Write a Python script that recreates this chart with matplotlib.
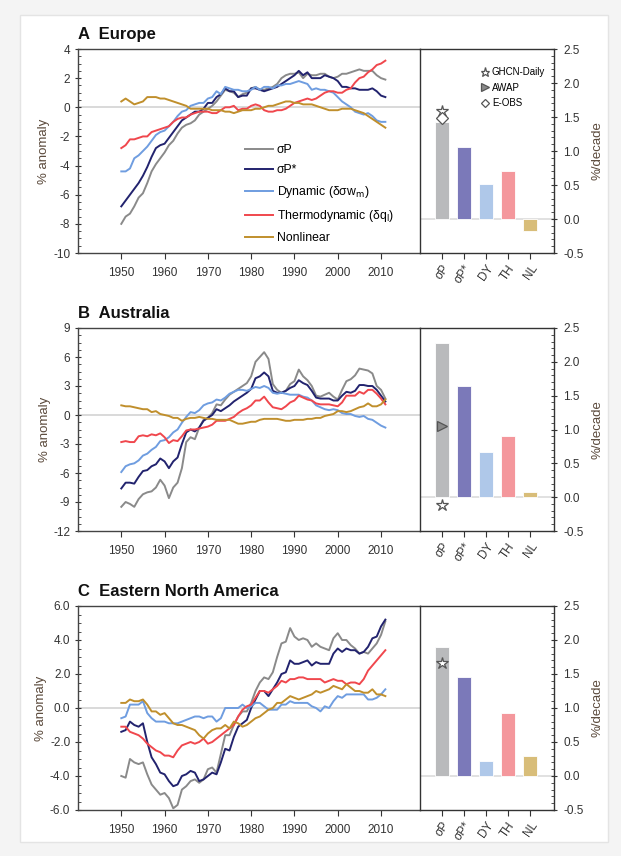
import matplotlib
matplotlib.use("Agg")
import matplotlib.pyplot as plt
from matplotlib.lines import Line2D
from matplotlib.patches import Rectangle
from matplotlib.ticker import MultipleLocator

plt.rcParams['font.family'] = ['Liberation Sans', 'DejaVu Sans']
plt.rcParams['mathtext.fontset'] = 'dejavusans'

years = list(range(1950, 2012))

# ---------------- Europe ----------------
eu_sigP = [-8.0, -7.5, -7.3, -6.8, -6.2, -5.9, -5.2, -4.4, -3.9, -3.5, -3.1, -2.6, -2.3, -1.8, -1.4, -1.2,
           -1.1, -0.9, -0.5, -0.3, -0.1, 0.1, 0.4, 0.8, 1.2, 1.1, 1.0, 0.7, 0.9, 1.0, 1.3, 1.4,
           1.2, 1.2, 1.3, 1.4, 1.6, 2.0, 2.2, 2.3, 2.3, 2.4, 2.0, 2.3, 2.2, 2.2, 2.3, 2.3,
           2.1, 2.0, 2.1, 2.3, 2.3, 2.4, 2.5, 2.6, 2.5, 2.5, 2.5, 2.2, 2.0, 1.9]
eu_sigPs = [-6.8, -6.4, -6.0, -5.6, -5.2, -4.7, -4.1, -3.4, -2.8, -2.6, -2.5, -2.1, -1.7, -1.3, -0.9, -0.7,
            -0.5, -0.3, -0.3, -0.1, 0.3, 0.3, 0.7, 0.9, 1.3, 1.1, 1.1, 0.7, 0.8, 0.8, 1.3, 1.3,
            1.2, 1.1, 1.2, 1.3, 1.4, 1.6, 1.8, 2.0, 2.2, 2.5, 2.2, 2.4, 2.0, 2.0, 2.0, 2.2,
            2.1, 2.0, 1.8, 1.4, 1.4, 1.3, 1.3, 1.2, 1.2, 1.2, 1.3, 1.1, 0.8, 0.7]
eu_dyn = [-4.4, -4.4, -4.2, -3.5, -3.3, -3.0, -2.7, -2.3, -1.9, -1.7, -1.6, -1.3, -1.0, -0.6, -0.3, -0.2,
          0.1, 0.2, 0.3, 0.3, 0.6, 0.7, 1.1, 0.9, 1.4, 1.3, 1.2, 1.2, 1.1, 1.1, 1.2, 1.4,
          1.2, 1.4, 1.4, 1.3, 1.5, 1.5, 1.6, 1.6, 1.7, 1.8, 1.7, 1.6, 1.2, 1.3, 1.2, 1.2,
          1.1, 1.0, 0.7, 0.4, 0.2, 0.0, -0.3, -0.4, -0.5, -0.4, -0.6, -0.9, -1.0, -1.0]
eu_thermo = [-2.8, -2.6, -2.2, -2.2, -2.1, -2.0, -2.0, -1.7, -1.6, -1.5, -1.4, -1.3, -1.0, -0.8, -0.7, -0.7,
             -0.5, -0.4, -0.3, -0.3, -0.3, -0.4, -0.4, -0.2, 0.0, 0.0, 0.1, -0.2, -0.1, -0.1, 0.1, 0.2,
             0.1, -0.2, -0.3, -0.3, -0.2, -0.2, -0.1, 0.1, 0.3, 0.4, 0.5, 0.6, 0.5, 0.6, 0.8, 1.0,
             1.1, 1.1, 1.0, 1.0, 1.2, 1.3, 1.7, 2.0, 2.1, 2.4, 2.6, 2.9, 3.0, 3.2]
eu_nonlin = [0.4, 0.6, 0.4, 0.2, 0.3, 0.4, 0.7, 0.7, 0.7, 0.6, 0.6, 0.5, 0.4, 0.3, 0.2, 0.1,
             -0.1, -0.1, -0.1, -0.1, -0.1, -0.2, -0.2, -0.2, -0.3, -0.3, -0.4, -0.3, -0.2, -0.2, -0.2, -0.1,
             -0.1, 0.0, 0.1, 0.1, 0.2, 0.3, 0.4, 0.4, 0.3, 0.3, 0.2, 0.2, 0.2, 0.1, 0.0, -0.1,
             -0.2, -0.2, -0.2, -0.1, -0.1, -0.1, -0.2, -0.3, -0.4, -0.6, -0.8, -1.0, -1.2, -1.4]

# ---------------- Australia ----------------
au_sigP = [-9.5, -9.0, -9.2, -9.5, -8.7, -8.2, -8.0, -7.9, -7.5, -6.7, -7.3, -8.6, -7.5, -7.0, -5.5, -2.8,
           -2.3, -2.5, -1.3, -0.5, -0.3, 0.2, 1.1, 1.0, 1.6, 2.1, 2.4, 2.7, 3.0, 3.3, 4.0, 5.5,
           6.0, 6.5, 5.8, 3.2, 2.6, 2.3, 2.5, 3.2, 3.5, 4.7, 4.0, 3.6, 3.0, 2.0, 1.9, 2.1,
           2.3, 1.9, 1.6, 2.6, 3.5, 3.7, 4.1, 4.8, 4.7, 4.6, 4.3, 3.0, 2.6, 1.7]
au_sigPs = [-7.6, -7.0, -7.0, -7.1, -6.4, -5.8, -5.7, -5.3, -5.1, -4.5, -4.8, -5.5, -4.8, -4.4, -3.0, -1.8,
            -1.5, -1.7, -1.3, -0.6, -0.3, 0.0, 0.6, 0.4, 0.7, 1.0, 1.4, 1.7, 2.0, 2.3, 2.7, 3.8,
            4.0, 4.4, 4.0, 2.5, 2.3, 2.3, 2.5, 2.8, 3.0, 3.6, 3.3, 3.1, 2.5, 1.8, 1.7, 1.7,
            1.7, 1.5, 1.5, 2.0, 2.4, 2.3, 2.5, 3.1, 3.1, 3.0, 3.0, 2.6, 2.0, 1.4]
au_dyn = [-5.9, -5.3, -5.1, -5.0, -4.7, -4.2, -4.0, -3.6, -3.3, -2.7, -2.6, -2.3, -1.8, -1.5, -0.8, -0.2,
          0.3, 0.2, 0.5, 1.0, 1.2, 1.3, 1.6, 1.5, 1.8, 2.2, 2.4, 2.6, 2.6, 2.5, 2.7, 2.9,
          2.8, 3.0, 2.8, 2.3, 2.2, 2.3, 2.2, 2.1, 2.1, 2.1, 1.9, 1.8, 1.5, 1.0, 0.8, 0.6,
          0.5, 0.6, 0.5, 0.2, 0.1, 0.1, -0.1, -0.2, -0.1, -0.4, -0.5, -0.8, -1.1, -1.3]
au_thermo = [-2.8, -2.7, -2.8, -2.8, -2.2, -2.1, -2.2, -2.0, -2.1, -1.9, -2.3, -2.9, -2.6, -2.7, -2.2, -1.6,
             -1.5, -1.5, -1.4, -1.3, -1.2, -1.0, -0.6, -0.6, -0.6, -0.4, -0.2, 0.2, 0.5, 0.7, 1.0, 1.5,
             1.5, 1.9, 1.3, 0.8, 0.7, 0.6, 0.9, 1.3, 1.5, 2.0, 1.8, 1.6, 1.5, 1.2, 1.1, 1.1,
             1.1, 1.0, 0.9, 1.3, 2.0, 2.0, 2.0, 2.4, 2.2, 2.6, 2.6, 2.2, 1.7, 1.1]
au_nonlin = [1.0, 0.9, 0.9, 0.8, 0.7, 0.6, 0.6, 0.3, 0.4, 0.1, 0.0, -0.1, -0.3, -0.3, -0.6, -0.4,
             -0.3, -0.3, -0.2, -0.3, -0.4, -0.4, -0.5, -0.5, -0.5, -0.5, -0.7, -0.9, -0.9, -0.8, -0.7, -0.7,
             -0.5, -0.4, -0.4, -0.4, -0.4, -0.5, -0.6, -0.6, -0.5, -0.5, -0.5, -0.4, -0.4, -0.3, -0.3, -0.1,
             0.0, 0.1, 0.4, 0.4, 0.3, 0.4, 0.6, 0.8, 0.9, 1.2, 0.9, 0.9, 1.1, 1.6]

# ---------------- Eastern North America ----------------
na_sigP = [-4.0, -4.1, -3.0, -3.2, -3.3, -3.2, -3.9, -4.5, -4.8, -5.1, -5.0, -5.3, -5.9, -5.7, -4.8, -4.6,
           -4.3, -4.2, -4.4, -4.2, -3.6, -3.5, -3.8, -2.7, -1.6, -1.6, -1.0, -0.5, -0.2, -0.2, 0.3, 1.0,
           1.5, 1.8, 1.7, 2.1, 3.0, 3.8, 3.9, 4.7, 4.2, 4.0, 4.1, 4.0, 3.6, 3.8, 3.6, 3.5,
           3.4, 4.1, 4.4, 4.0, 4.0, 3.7, 3.5, 3.2, 3.3, 3.2, 3.5, 3.8, 4.3, 5.1]
na_sigPs = [-1.4, -1.3, -0.8, -1.0, -1.1, -0.9, -2.0, -2.9, -3.3, -3.8, -3.9, -4.3, -4.6, -4.5, -4.0, -3.9,
            -3.7, -3.8, -4.3, -4.2, -4.0, -3.8, -3.9, -3.2, -2.4, -2.5, -1.7, -1.1, -0.9, -0.7, 0.0, 0.5,
            1.0, 1.0, 0.7, 1.1, 1.5, 2.0, 2.1, 2.8, 2.6, 2.6, 2.7, 2.8, 2.5, 2.7, 2.6, 2.6,
            2.6, 3.2, 3.5, 3.3, 3.5, 3.4, 3.4, 3.2, 3.3, 3.6, 4.1, 4.2, 4.8, 5.2]
na_dyn = [-0.6, -0.5, 0.2, 0.2, 0.2, 0.4, -0.3, -0.6, -0.8, -0.8, -0.8, -0.9, -0.9, -0.9, -0.8, -0.7,
          -0.6, -0.5, -0.5, -0.6, -0.5, -0.5, -0.8, -0.6, 0.0, 0.0, 0.0, 0.0, 0.2, 0.0, 0.1, 0.3,
          0.3, 0.1, -0.1, -0.1, -0.1, 0.2, 0.2, 0.4, 0.3, 0.3, 0.3, 0.3, 0.1, 0.0, -0.2, 0.1,
          0.0, 0.4, 0.7, 0.6, 0.8, 0.8, 0.8, 0.8, 0.8, 0.5, 0.5, 0.6, 0.8, 1.1]
na_thermo = [-1.1, -1.1, -1.4, -1.5, -1.6, -1.8, -2.1, -2.3, -2.5, -2.6, -2.8, -2.8, -2.9, -2.5, -2.2, -2.1,
             -2.0, -2.1, -2.0, -1.8, -2.1, -2.0, -1.8, -1.6, -1.4, -1.2, -1.0, -0.5, -0.1, 0.1, 0.2, 0.6,
             1.0, 1.0, 0.9, 1.1, 1.3, 1.6, 1.5, 1.7, 1.7, 1.8, 1.8, 1.7, 1.7, 1.7, 1.7, 1.5,
             1.6, 1.7, 1.6, 1.6, 1.4, 1.5, 1.5, 1.4, 1.7, 2.2, 2.5, 2.8, 3.1, 3.4]
na_nonlin = [0.3, 0.3, 0.5, 0.4, 0.4, 0.5, 0.2, -0.2, -0.2, -0.4, -0.3, -0.6, -0.9, -1.0, -1.0, -1.1,
             -1.2, -1.3, -1.6, -1.8, -1.5, -1.3, -1.2, -1.2, -1.0, -1.2, -0.8, -0.9, -1.1, -1.0, -0.8, -0.6,
             -0.5, -0.3, -0.1, 0.0, 0.3, 0.3, 0.5, 0.7, 0.6, 0.5, 0.6, 0.7, 0.8, 1.0, 0.9, 1.0,
             1.1, 1.3, 1.2, 1.1, 1.4, 1.2, 1.0, 1.0, 0.9, 0.9, 1.1, 0.8, 0.8, 0.7]

# ---------------- trends (%/decade) ----------------
bar_labels = ['σP', 'σP*', 'DY', 'TH', 'NL']
eu_trend = [1.42, 1.06, 0.51, 0.71, -0.17]
au_trend = [2.28, 1.64, 0.67, 0.90, 0.07]
na_trend = [1.90, 1.46, 0.22, 0.93, 0.30]
# observed trends plotted on the sigma-P bar
eu_obs = {'GHCN-Daily': 1.59, 'E-OBS': 1.49}
au_obs = {'GHCN-Daily': -0.12, 'AWAP': 1.05}
na_obs = {'GHCN-Daily': 1.66}

series_names = ['σP', 'σP*', 'Dynamic (δσw$_{\\rm m}$)', 'Thermodynamic (δq$_{\\rm l}$)', 'Nonlinear']
line_colors = ['#8a8a8a', '#22236e', '#6f9de0', '#f0474d', '#c08f2c']
bar_colors = ['#b9babc', '#7b79b9', '#afc8e9', '#f4979c', '#d8bd79']

panels = [
    dict(title='A  Europe', data=[eu_sigP, eu_sigPs, eu_dyn, eu_thermo, eu_nonlin], trend=eu_trend,
         obs=eu_obs, ylim=(-10, 4), major=2, minor=0.5, fmt='{:g}', top=49, bottom=253, legend=True),
    dict(title='B  Australia', data=[au_sigP, au_sigPs, au_dyn, au_thermo, au_nonlin], trend=au_trend,
         obs=au_obs, ylim=(-12, 9), major=3, minor=0.75, fmt='{:g}', top=328, bottom=531, legend=False),
    dict(title='C  Eastern North America', data=[na_sigP, na_sigPs, na_dyn, na_thermo, na_nonlin], trend=na_trend,
         obs=na_obs, ylim=(-6, 6), major=2, minor=0.5, fmt='{:.1f}', top=606, bottom=810, legend=False),
]

W, H = 621, 856
fig = plt.figure(figsize=(W / 100, H / 100), dpi=100)
fig.patch.set_facecolor('#f4f4f4')
card = Rectangle((20 / W, 1 - 842 / H), 588 / W, 827 / H, transform=fig.transFigure,
                 facecolor='white', edgecolor='#e4e4e4', linewidth=1.0, zorder=-10)
fig.patches.append(card)

marker_style = {
    'GHCN-Daily': dict(marker='*', ms=9, mfc='white', mec='#555555', mew=0.9),
    'AWAP': dict(marker='>', ms=7, mfc='#8a8a8a', mec='#555555', mew=0.9),
    'E-OBS': dict(marker='D', ms=6, mfc='white', mec='#555555', mew=0.9),
}

tick_col = '#333333'
lab_col = '#5b4a3c'
L, M, R = 78, 420, 554

for p in panels:
    top, bot = p['top'], p['bottom']
    ax = fig.add_axes([L / W, 1 - bot / H, (M - L) / W, (bot - top) / H])
    bx = fig.add_axes([M / W, 1 - bot / H, (R - M) / W, (bot - top) / H])

    ax.axhline(0, color='#cfcfcf', lw=1.1, zorder=1)
    for vals, name, col in zip(p['data'], series_names, line_colors):
        ax.plot(years, vals, color=col, lw=1.4, label=name, zorder=3)
    ax.set_xlim(1940, 2019)
    ax.set_ylim(*p['ylim'])
    ax.set_xticks(range(1950, 2011, 10))
    ax.yaxis.set_major_locator(MultipleLocator(p['major']))
    ax.yaxis.set_minor_locator(MultipleLocator(p['minor']))
    ax.set_yticklabels([p['fmt'].format(v) for v in ax.get_yticks()])
    ax.tick_params(axis='x', direction='out', length=4, width=0.8, colors=tick_col, labelsize=8.5, pad=6)
    ax.tick_params(axis='y', which='major', direction='inout', length=5, width=0.8, colors=tick_col, labelsize=8.5, pad=3)
    ax.tick_params(axis='y', which='minor', direction='in', length=2.5, width=0.6, colors=tick_col)
    for s in ax.spines.values():
        s.set_color('#444444')
        s.set_linewidth(1.0)
    ax.spines['right'].set_visible(False)
    ax.set_ylabel('% anomaly', color=lab_col, fontsize=9.5, labelpad=2)
    ax.text(0.0, 1.035, p['title'], transform=ax.transAxes, fontsize=12, fontweight='bold',
            family=['Liberation Sans Narrow', 'Liberation Sans'], color='#111111', va='bottom', ha='left')

    if p['legend']:
        ax.legend(loc='upper left', bbox_to_anchor=(0.488, 0.535), frameon=False, fontsize=8.8,
                  handlelength=2.3, handletextpad=0.3, labelspacing=0.66, borderpad=0, borderaxespad=0)

    # bar panel
    xs = list(range(len(bar_labels)))
    bx.axhline(0, color='#d9d9d9', lw=1.1, zorder=1)
    bx.bar(xs, p['trend'], width=0.66, color=bar_colors, edgecolor='white', linewidth=0.6, zorder=2)
    for name, v in p['obs'].items():
        bx.plot([0], [v], linestyle='None', zorder=4, **marker_style[name])
    bx.set_xlim(-1.0, 5.1)
    bx.set_ylim(-0.5, 2.5)
    bx.set_xticks(xs)
    bx.set_xticklabels(bar_labels, rotation=55, ha='right', rotation_mode='anchor')
    bx.yaxis.tick_right()
    bx.yaxis.set_label_position('right')
    bx.yaxis.set_major_locator(MultipleLocator(0.5))
    bx.yaxis.set_minor_locator(MultipleLocator(0.1))
    bx.set_yticklabels(['{:.1f}'.format(v) for v in bx.get_yticks()])
    bx.tick_params(axis='x', direction='out', length=4, width=0.8, colors=tick_col, labelsize=8.5, pad=3)
    bx.tick_params(axis='y', which='major', direction='inout', length=5, width=0.8, colors=tick_col, labelsize=8.5, pad=4)
    bx.tick_params(axis='y', which='minor', direction='in', length=2.5, width=0.6, colors=tick_col)
    bx.tick_params(axis='y', which='both', left=False)
    for s in bx.spines.values():
        s.set_color('#333333')
        s.set_linewidth(1.0)
    bx.set_ylabel('%/decade', color=lab_col, fontsize=9.5, rotation=90, labelpad=6)

    if p['legend']:
        handles = [Line2D([], [], linestyle='None', **marker_style[k]) for k in ['GHCN-Daily', 'AWAP', 'E-OBS']]
        for h in handles:
            h.set_markersize(h.get_markersize() * 0.75)
        bx.legend(handles, ['GHCN-Daily', 'AWAP', 'E-OBS'], loc='upper left', bbox_to_anchor=(0.45, 0.91),
                  frameon=False, fontsize=7, handlelength=0.9, handletextpad=0.3, labelspacing=0.55,
                  borderpad=0, borderaxespad=0)

fig.savefig('out.png', dpi=100, facecolor=fig.get_facecolor())
